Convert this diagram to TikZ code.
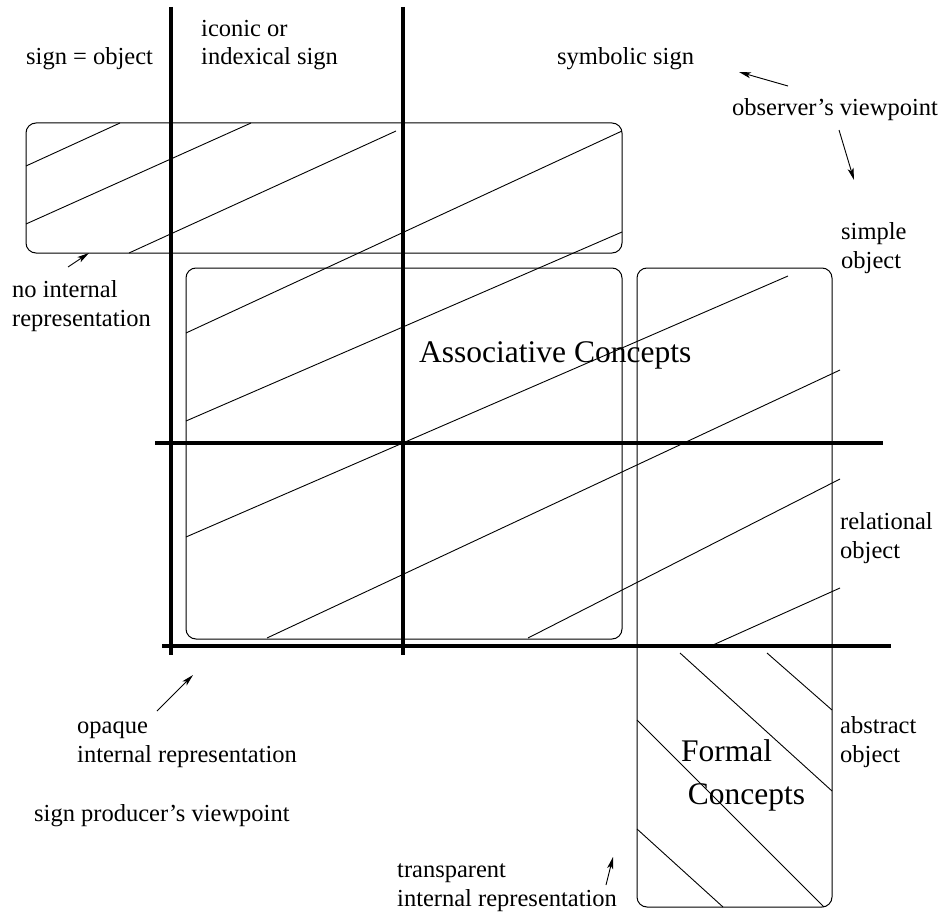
\documentclass[tikz,border=0pt]{standalone}
\usepackage{fontspec}
\setmainfont{Liberation Serif}
\usetikzlibrary{arrows.meta}
\begin{document}
\begin{tikzpicture}[x=1pt,y=-1pt,
  thickrule/.style={line width=4pt},
  frame/.style={line width=1pt, rounded corners=10pt},
  hatch/.style={line width=0.9pt},
  lbl/.style={inner sep=0pt, anchor=base west, align=left, font=\fontsize{24.5}{28.7}\selectfont},
  big/.style={inner sep=0pt, anchor=base west, align=left, font=\fontsize{31.5}{42.3}\selectfont},
  pointer/.style={line width=0.9pt, -{Stealth[length=12pt,width=6pt,inset=3pt]}}
]
\useasboundingbox (0,0) rectangle (940,915);

% boxes
\draw[frame] (26,123) rectangle (622,253);
\draw[frame] (186,268) rectangle (622,639);
\draw[frame] (637,268) rectangle (832,907);

% hatching
\draw[hatch] (26,166) -- (120,123);
\draw[hatch] (26,224) -- (251,123);
\draw[hatch] (129,253) -- (396,131);
\draw[hatch] (186,333) -- (622,131);
\draw[hatch] (186,421) -- (622,232);
\draw[hatch] (186,537) -- (788,276);
\draw[hatch] (267,638) -- (840,370);
\draw[hatch] (528,638) -- (840,479);
\draw[hatch] (713,645) -- (840,588);
\draw[hatch] (680,653) -- (832,791);
\draw[hatch] (767,653) -- (832,710);
\draw[hatch] (637,720) -- (824,907);
\draw[hatch] (637,829) -- (723,907);

% thick grid lines
\draw[thickrule] (171,7) -- (171,655);
\draw[thickrule] (403,7) -- (403,655);
\draw[thickrule] (155,443) -- (883,443);
\draw[thickrule] (162,646) -- (891,646);

% labels (multi-line nodes: base = last line)
\node[lbl] (signobj) at (26,65) {sign = object};
\node[lbl] (iconic) at (201,65) {iconic or\\indexical sign};
\node[lbl] (symb) at (557,65) {symbolic sign};
\node[lbl] (observer) at (732,116) {observer's viewpoint};
\node[lbl] (simple) at (841,268) {simple\\object};
\node[lbl] (nointernal) at (12,326) {no internal\\representation};
\node[lbl] (relational) at (840,558) {relational\\object};
\node[lbl] (abstract) at (840,762) {abstract\\object};
\node[lbl] (opaque) at (77,762) {opaque\\internal representation};
\node[lbl] (producer) at (34,821) {sign producer's viewpoint};
\node[lbl] (transparent) at (397,906) {transparent\\internal representation};
\node[big] (assoc) at (419,362) {Associative Concepts};
\node[big] (formal) at (681,804) {Formal\\\hspace*{6.6pt}Concepts};

% pointers
\coordinate (obsAtail) at (788,86);
\coordinate (obsAhead) at (739,72);
\coordinate (obsBtail) at (839,130);
\coordinate (obsBhead) at (854,180);
\coordinate (nointtail) at (68,267);
\coordinate (nointhead) at (89,253);
\coordinate (opqtail) at (157,711);
\coordinate (opqhead) at (193,675);
\coordinate (trntail) at (606,885);
\coordinate (trnhead) at (613,857);
\draw[pointer] (obsAtail) -- (obsAhead);
\draw[pointer] (obsBtail) -- (obsBhead);
\draw[pointer] (nointtail) -- (nointhead);
\draw[pointer] (opqtail) -- (opqhead);
\draw[pointer] (trntail) -- (trnhead);
\end{tikzpicture}
\end{document}
